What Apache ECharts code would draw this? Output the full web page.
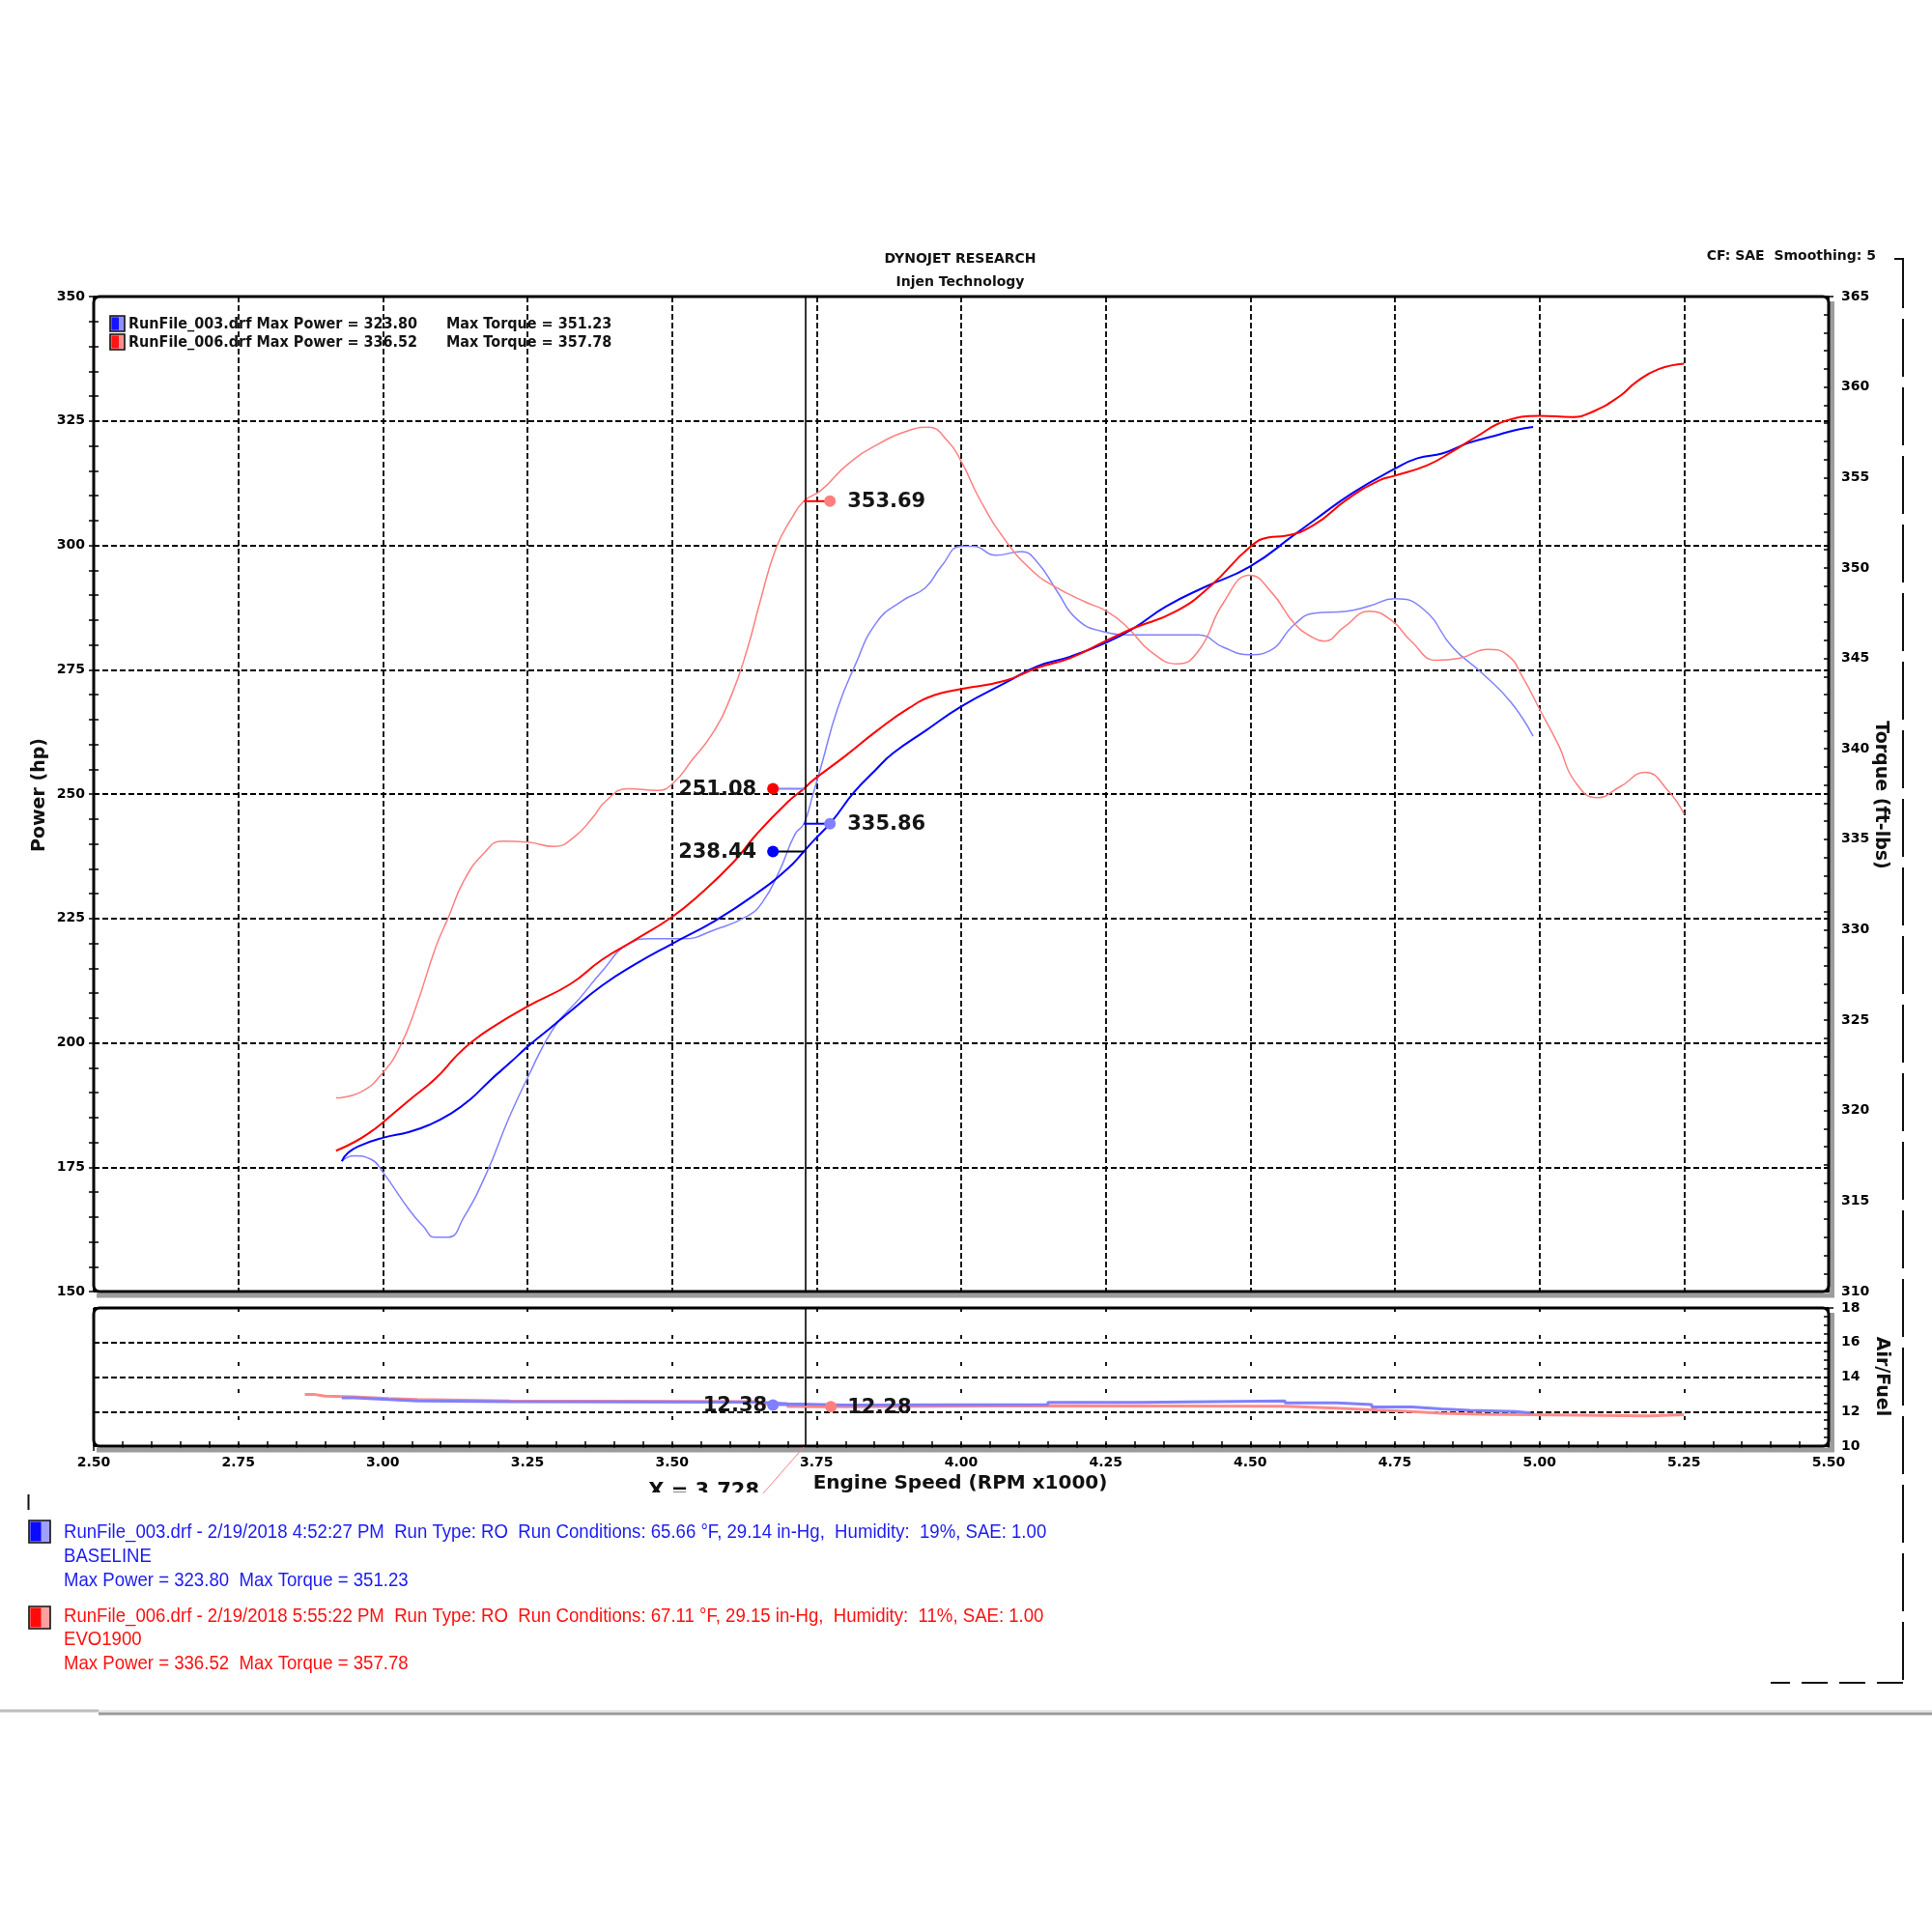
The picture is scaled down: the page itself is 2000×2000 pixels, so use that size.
<!DOCTYPE html>
<html><head><meta charset="utf-8">
<script src="https://cdn.jsdelivr.net/npm/echarts/dist/echarts.min.js"></script>
<style>html,body{margin:0;padding:0;background:#fff}#c{width:2000px;height:2000px}</style>
</head><body><div id="c"></div>
<script>
// ---------------- DATA ----------------
const xTickMin = 2.5, xTickMax = 5.5, xTickStep = 0.25;
const powerMin = 150, powerMax = 350, powerStep = 25;
const torqueMin = 310, torqueMax = 365, torqueStep = 5;
const afrMin = 10, afrMax = 18, afrStep = 2;

const rpmBluePower = [2.929,2.94,2.96,3.0,3.046,3.08,3.118,3.15,3.185,3.22,3.25,3.29,3.324,3.379,3.435,3.5,3.574,3.646,3.70,3.728,3.743,3.777,3.815,3.85,3.882,3.938,4.0,4.077,4.132,4.188,4.252,4.299,4.354,4.421,4.499,4.577,4.61,4.678,4.75,4.789,4.833,4.878,4.922,4.96,4.989];
const bluePower    = [176.2,177.9,179.3,180.9,182.1,183.5,185.8,188.5,192.4,196.0,199.2,203.0,206.3,211.5,215.7,219.9,224.5,230.0,235.0,238.44,240.4,244.6,250.4,254.6,258.2,262.7,267.6,272.4,275.7,277.6,280.5,283.4,287.7,291.6,295.7,302.2,305.0,310.6,315.4,317.5,318.5,320.6,322.0,323.2,323.8];

const rpmRedPower = [2.919,2.95,2.979,3.0,3.046,3.091,3.129,3.152,3.185,3.25,3.324,3.379,3.435,3.5,3.546,3.607,3.646,3.70,3.728,3.743,3.799,3.854,3.91,3.954,4.0,4.077,4.132,4.188,4.252,4.299,4.371,4.432,4.499,4.532,4.56,4.61,4.667,4.722,4.75,4.806,4.85,4.889,4.944,5.0,5.056,5.089,5.139,5.167,5.206,5.25];
const redPower    = [178.3,180.0,182.1,184.0,188.5,192.8,197.6,200.0,202.8,207.3,211.8,216.7,220.6,225.3,229.6,236.4,241.9,248.4,251.08,252.7,257.6,262.7,267.3,269.9,271.1,272.8,275.4,277.3,280.9,283.4,286.7,291.9,299.6,301.6,301.9,304.1,309.2,313.0,314.0,316.1,318.9,321.7,325.1,326.0,325.8,326.7,330.0,332.8,335.4,336.5];

const rpmBlueTorque = [2.929,2.95,2.98,3.0,3.046,3.07,3.09,3.113,3.14,3.18,3.218,3.25,3.296,3.34,3.379,3.424,3.463,3.519,3.574,3.63,3.657,3.685,3.713,3.728,3.743,3.758,3.786,3.815,3.854,3.899,3.938,3.966,4.0,4.021,4.06,4.104,4.132,4.166,4.199,4.243,4.299,4.354,4.41,4.454,4.499,4.532,4.577,4.611,4.667,4.706,4.75,4.8,4.85,4.9,4.95,4.989];
const blueTorque    = [317.2,317.5,317.3,316.6,314.5,313.6,313.0,313.0,314.1,316.6,319.6,321.8,324.6,326.2,327.7,329.2,329.5,329.5,330.0,330.75,331.55,333.2,335.3,335.86,337.4,339.05,342.2,344.5,347.0,348.2,348.9,350.1,351.2,351.2,350.7,350.9,350.3,348.7,347.2,346.5,346.3,346.3,346.3,345.6,345.2,345.4,346.9,347.5,347.6,347.9,348.3,347.7,345.6,344.2,342.6,340.7];

const rpmRedTorque = [2.919,2.963,3.0,3.029,3.057,3.091,3.113,3.14,3.174,3.207,3.25,3.296,3.33,3.363,3.385,3.424,3.474,3.502,3.535,3.569,3.602,3.63,3.652,3.68,3.708,3.728,3.758,3.803,3.854,3.91,3.943,3.977,4.0,4.032,4.077,4.121,4.16,4.216,4.252,4.288,4.327,4.374,4.41,4.454,4.499,4.538,4.577,4.611,4.628,4.661,4.706,4.744,4.778,4.822,4.861,4.911,4.944,4.972,5.0,5.033,5.061,5.1,5.139,5.183,5.222,5.25];
const redTorque    = [320.7,321.05,322.1,323.5,325.7,329.0,330.66,332.7,334.2,334.9,334.85,334.6,335.1,336.2,337.1,337.8,337.7,338.1,339.4,340.8,342.9,345.5,348.1,351.1,352.8,353.69,354.3,355.7,356.8,357.6,357.78,357.0,355.9,353.8,351.5,349.9,349.0,348.1,347.6,346.7,345.4,344.7,345.4,348.1,349.6,348.6,346.9,346.1,345.95,346.7,347.6,347.1,345.95,344.9,345.0,345.5,345.2,343.9,342.2,340.2,338.2,337.3,337.9,338.7,337.7,336.4];

const rpmBlueAfr = [2.929,2.95,3.01,3.06,3.22,3.65,3.70,3.80,4.15,4.31,4.56,4.65,4.71,4.78,4.83,4.88,4.96,4.985];
const blueAfr    = [12.8,12.7,12.62,12.58,12.55,12.45,12.38,12.4,12.53,12.62,12.5,12.4,12.27,12.16,12.07,12.0,11.92,11.92];
const rpmRedAfr = [2.865,2.88,2.90,2.95,3.01,3.06,3.22,3.65,3.70,3.728,3.80,4.15,4.56,4.65,4.72,4.78,4.83,4.90,5.19,5.25];
const redAfr    = [13.0,12.9,12.85,12.76,12.7,12.62,12.58,12.45,12.3,12.28,12.33,12.31,12.2,12.09,12.0,11.9,11.84,11.75,11.82,11.82];

const cursorRpm = 3.728;
const cursorPower = [238.44, 251.08];   // blue, red
const cursorTorque = [335.86, 353.69];  // blue, red
const cursorAfr = [12.38, 12.28];       // blue, red

const titleLines = ['DYNOJET RESEARCH', 'Injen Technology'];
const cfText = 'CF: SAE  Smoothing: 5';
const legendTop = [
  ['RunFile_003.drf Max Power = 323.80', 'Max Torque = 351.23'],
  ['RunFile_006.drf Max Power = 336.52', 'Max Torque = 357.78']
];
const legendBottom = [
  ['RunFile_003.drf - 2/19/2018 4:52:27 PM  Run Type: RO  Run Conditions: 65.66 °F, 29.14 in-Hg,  Humidity:  19%, SAE: 1.00', 'BASELINE', 'Max Power = 323.80  Max Torque = 351.23'],
  ['RunFile_006.drf - 2/19/2018 5:55:22 PM  Run Type: RO  Run Conditions: 67.11 °F, 29.15 in-Hg,  Humidity:  11%, SAE: 1.00', 'EVO1900', 'Max Power = 336.52  Max Torque = 357.78']
];
const xName = 'Engine Speed (RPM x1000)';
const yLeftName = 'Power (hp)';
const yRightName = 'Torque (ft-lbs)';
const afrName = 'Air/Fuel';

// ---------------- STYLE / LAYOUT ----------------
const FONT = '"DejaVu Sans", Verdana, sans-serif';
const SANS = '"Liberation Sans", Arial, sans-serif';
const BLUE = '#0000ff', RED = '#ff0000', LBLUE = '#8080ff', LRED = '#ff7f7f';
const GM = {left: 97, top: 307, width: 1796, height: 1030};
const GA = {left: 97, top: 1354, width: 1796, height: 143};

function zip(a, b) { return a.map((v, i) => [v, b[i]]); }

const tickStyle = {color: '#000', width: 1.5};
const labelStyle = {fontFamily: FONT, fontWeight: 'bold', fontSize: 14, color: '#000', showMinLabel: true, showMaxLabel: true};

function valAxis(extra) {
  return Object.assign({
    type: 'value', scale: false,
    axisLine: {show: false},
    splitLine: {show: false},
    axisLabel: {show: false},
    axisTick: {show: false},
    minorTick: {show: false}
  }, extra);
}

const xAxes = [
  valAxis({gridIndex: 0, min: xTickMin, max: xTickMax, interval: xTickStep,
    splitLine: {show: true, lineStyle: {color: '#000', width: 1.8, type: [6, 3]}}}),
  valAxis({gridIndex: 1, min: xTickMin, max: xTickMax, interval: xTickStep, position: 'bottom',
    axisTick: {show: true, length: 5, lineStyle: tickStyle},
    minorTick: {show: true, splitNumber: 5, length: 5, lineStyle: tickStyle},
    axisLabel: Object.assign({show: true, margin: 10, formatter: v => v.toFixed(2)}, labelStyle),
    splitLine: {show: true, lineStyle: {color: '#000', width: 1.8, type: [4, 24]}}}),
  valAxis({gridIndex: 1, min: xTickMin, max: xTickMax, interval: xTickStep, position: 'bottom',
    axisTick: {show: true, inside: true, length: 5, lineStyle: tickStyle},
    minorTick: {show: true, splitNumber: 5, length: 5, lineStyle: tickStyle}})
];

const yAxes = [
  valAxis({gridIndex: 0, position: 'left', min: powerMin, max: powerMax, interval: powerStep,
    axisTick: {show: true, length: 5, lineStyle: tickStyle},
    minorTick: {show: true, splitNumber: 5, length: 5, lineStyle: tickStyle},
    axisLabel: Object.assign({show: true, margin: 9}, labelStyle),
    splitLine: {show: true, lineStyle: {color: '#000', width: 1.8, type: [6, 3]}}}),
  valAxis({gridIndex: 0, position: 'left', min: powerMin, max: powerMax, interval: powerStep,
    axisTick: {show: true, inside: true, length: 5, lineStyle: tickStyle},
    minorTick: {show: true, splitNumber: 5, length: 5, lineStyle: tickStyle}}),
  valAxis({gridIndex: 0, position: 'right', min: torqueMin, max: torqueMax, interval: torqueStep,
    axisTick: {show: true, length: 5, lineStyle: tickStyle},
    minorTick: {show: true, splitNumber: 5, length: 5, lineStyle: tickStyle},
    axisLabel: Object.assign({show: true, margin: 13}, labelStyle)}),
  valAxis({gridIndex: 0, position: 'right', min: torqueMin, max: torqueMax, interval: torqueStep,
    axisTick: {show: true, inside: true, length: 5, lineStyle: tickStyle},
    minorTick: {show: true, splitNumber: 5, length: 5, lineStyle: tickStyle}}),
  valAxis({gridIndex: 1, position: 'right', min: afrMin, max: afrMax, interval: afrStep,
    axisTick: {show: true, length: 5, lineStyle: tickStyle},
    minorTick: {show: true, splitNumber: 4, length: 5, lineStyle: tickStyle},
    axisLabel: Object.assign({show: true, margin: 13}, labelStyle),
    splitLine: {show: true, lineStyle: {color: '#000', width: 1.8, type: [6, 3]}}}),
  valAxis({gridIndex: 1, position: 'right', min: afrMin, max: afrMax, interval: afrStep,
    axisTick: {show: true, inside: true, length: 5, lineStyle: tickStyle},
    minorTick: {show: true, splitNumber: 4, length: 5, lineStyle: tickStyle}})
];

function lineSeries(data, xi, yi, color, width, extra) {
  return Object.assign({
    type: 'line', xAxisIndex: xi, yAxisIndex: yi, data: data,
    showSymbol: false, symbol: 'none', smooth: 0.5,
    lineStyle: {color: color, width: width}, itemStyle: {color: color},
    silent: true, animation: false, z: 3
  }, extra || {});
}

const cursorMark = {
  silent: true, symbol: ['none', 'none'], animation: false,
  label: {show: false},
  lineStyle: {color: '#000', width: 1.6, type: 'solid'},
  data: [{xAxis: cursorRpm}]
};

// annotation styles (pixel offsets / colours), one entry per value in the cursor arrays
const powerAnnot = [
  {dotDx: -32, textDx: -49, align: 'right', dot: BLUE, conn: '#000'},
  {dotDx: -32, textDx: -49, align: 'right', dot: RED, conn: LBLUE}
];
const torqueAnnot = [
  {dotDx: 27, textDx: 45, align: 'left', dot: LBLUE, conn: BLUE},
  {dotDx: 27, textDx: 45, align: 'left', dot: LRED, conn: RED}
];
const afrAnnot = [
  {dotDx: -32, textDx: -38, align: 'right', dot: LBLUE, conn: LBLUE},
  {dotDx: 28, textDx: 45, align: 'left', dot: LRED, conn: LRED}
];

function annotSeries(values, xi, yi, cfg, fontSize) {
  return {
    type: 'custom', xAxisIndex: xi, yAxisIndex: yi, clip: false, silent: true, animation: false, z: 6,
    data: values.map(v => [cursorRpm, v]),
    renderItem: function (params, api) {
      const c = cfg[params.dataIndex];
      const v = api.value(1);
      const p = api.coord([api.value(0), v]);
      return {type: 'group', children: [
        {type: 'line', shape: {x1: p[0], y1: p[1], x2: p[0] + c.dotDx, y2: p[1]}, style: {stroke: c.conn, lineWidth: 2}},
        {type: 'circle', shape: {cx: p[0] + c.dotDx, cy: p[1], r: 6}, style: {fill: c.dot}},
        {type: 'text', x: p[0] + c.textDx, y: p[1] + 1, style: {text: v.toFixed(2), fill: '#151515',
          font: 'bold ' + fontSize + 'px ' + FONT, align: c.align, verticalAlign: 'middle',
          textAlign: c.align, textVerticalAlign: 'middle'}}
      ]};
    }
  };
}

const series = [
  lineSeries(zip(rpmBlueTorque, blueTorque), 0, 2, LBLUE, 1.5),
  lineSeries(zip(rpmRedTorque, redTorque), 0, 2, LRED, 1.5),
  lineSeries(zip(rpmBluePower, bluePower), 0, 0, BLUE, 2),
  lineSeries(zip(rpmRedPower, redPower), 0, 0, RED, 2, {markLine: cursorMark}),
  lineSeries(zip(rpmRedAfr, redAfr), 1, 4, '#ff8a8a', 3, {smooth: false, step: 'end'}),
  lineSeries(zip(rpmBlueAfr, blueAfr), 1, 4, LBLUE, 3, {smooth: false, step: 'end', markLine: cursorMark}),
  annotSeries(cursorPower, 0, 0, powerAnnot, 21),
  annotSeries(cursorTorque, 0, 2, torqueAnnot, 21),
  annotSeries(cursorAfr, 1, 4, afrAnnot, 21)
];

// ---------------- GRAPHIC (frames, titles, legends) ----------------
function txt(x, y, text, font, fill, align, extra) {
  return Object.assign({type: 'text', x: x, y: y, silent: true, z: 20,
    style: {text: text, font: font, fill: fill, align: align || 'left', verticalAlign: 'middle',
      textAlign: align || 'left', textVerticalAlign: 'middle'}}, extra || {});
}
function frame(g) {
  const r = g.left + g.width, b = g.top + g.height;
  return [
    {type: 'polyline', silent: true, z: 9, shape: {points: [[g.left + 3, b + 4], [r + 3.5, b + 4], [r + 3.5, g.top + 5]]},
      style: {stroke: '#9c9c9c', lineWidth: 5, fill: null}},
    {type: 'rect', silent: true, z: 10, shape: {x: g.left, y: g.top, width: g.width, height: g.height, r: 6},
      style: {stroke: '#000', lineWidth: 3, fill: null}}
  ];
}
function swatch(x, y, w, h, dark, light) {
  return [
    {type: 'rect', silent: true, z: 20, shape: {x: x, y: y, width: w, height: h}, style: {fill: light, stroke: '#111', lineWidth: 1.6}},
    {type: 'rect', silent: true, z: 21, shape: {x: x + 1.5, y: y + 1.5, width: w * 0.5, height: h - 3}, style: {fill: dark}}
  ];
}

const BF = 'bold 14px ' + FONT;
const graphic = [].concat(
  frame(GM), frame(GA),
  [
    txt(994, 268, titleLines[0], BF, '#111', 'center'),
    txt(994, 292, titleLines[1], BF, '#111', 'center'),
    txt(1942, 265, cfText, BF, '#111', 'right'),
    // right dashed decoration
    {type: 'polyline', silent: true, z: 5, shape: {points: [[1961, 268], [1970, 268], [1970, 1742]]},
      style: {stroke: '#111', lineWidth: 2, lineDash: [60, 11], fill: null}},
    {type: 'line', silent: true, z: 5, shape: {x1: 1970, y1: 1742, x2: 1833, y2: 1742},
      style: {stroke: '#111', lineWidth: 2, lineDash: [27, 12]}},
    {type: 'line', silent: true, z: 5, shape: {x1: 29.5, y1: 1547, x2: 29.5, y2: 1563}, style: {stroke: '#111', lineWidth: 2}},
    // bottom separator
    {type: 'line', silent: true, z: 5, shape: {x1: 0, y1: 1771, x2: 102, y2: 1771}, style: {stroke: '#bdbdbd', lineWidth: 3}},
    {type: 'line', silent: true, z: 5, shape: {x1: 102, y1: 1774, x2: 2000, y2: 1774}, style: {stroke: '#9a9a9a', lineWidth: 3}},
    {type: 'line', silent: true, z: 5, shape: {x1: 102, y1: 1771, x2: 2000, y2: 1771}, style: {stroke: '#e8e8e8', lineWidth: 2}},
    // axis names
    txt(41, 823, yLeftName, 'bold 19px ' + FONT, '#111', 'center', {rotation: Math.PI / 2}),
    txt(1947, 823, yRightName, 'bold 19px ' + FONT, '#111', 'center', {rotation: -Math.PI / 2}),
    txt(1948, 1425, afrName, 'bold 19px ' + FONT, '#111', 'center', {rotation: -Math.PI / 2}),
    txt(994, 1536, xName, 'bold 20px ' + FONT, '#111', 'center'),
    // cursor readout (partially hidden)
    txt(786, 1545, 'X = ' + cursorRpm.toFixed(3), 'bold 21px ' + FONT, '#111', 'right'),
    {type: 'rect', silent: true, z: 22, shape: {x: 655, y: 1545, width: 140, height: 18}, style: {fill: '#fff'}},
    {type: 'line', silent: true, z: 23, shape: {x1: 790, y1: 1546, x2: 832, y2: 1498}, style: {stroke: '#ff8080', lineWidth: 1}}
  ],
  // top-left legend
  swatch(114, 327, 15, 16, '#1414ff', '#9090ff'),
  swatch(114, 346, 15, 16, '#ff1414', '#ff9090'),
  [
    txt(133, 336, legendTop[0][0], 'bold 16px ' + FONT, '#141414', 'left', {scaleX: 0.9}),
    txt(462, 336, legendTop[0][1], 'bold 16px ' + FONT, '#141414', 'left', {scaleX: 0.9}),
    txt(133, 355, legendTop[1][0], 'bold 16px ' + FONT, '#141414', 'left', {scaleX: 0.9}),
    txt(462, 355, legendTop[1][1], 'bold 16px ' + FONT, '#141414', 'left', {scaleX: 0.9})
  ],
  // bottom legend
  swatch(30, 1574, 22, 23, '#0a0aff', '#a0a0ff'),
  swatch(30, 1663, 22, 23, '#ff0a0a', '#ffa0a0'),
  legendBottom[0].map((t, i) => txt(66, 1586 + i * 25, t, '18.6px ' + SANS, '#1c1cf0', 'left', {scaleY: 1.08})),
  legendBottom[1].map((t, i) => txt(66, 1673 + i * 24.5, t, '18.6px ' + SANS, '#ff1010', 'left', {scaleY: 1.08}))
);

const option = {
  backgroundColor: '#fff',
  animation: false,
  grid: [
    Object.assign({outerBoundsMode: 'none', containLabel: false}, GM),
    Object.assign({outerBoundsMode: 'none', containLabel: false}, GA)
  ],
  xAxis: xAxes,
  yAxis: yAxes,
  series: series,
  graphic: graphic
};

const chart = echarts.init(document.getElementById('c'), null, {renderer: 'canvas', width: 2000, height: 2000});
chart.setOption(option);
</script>
</body></html>
